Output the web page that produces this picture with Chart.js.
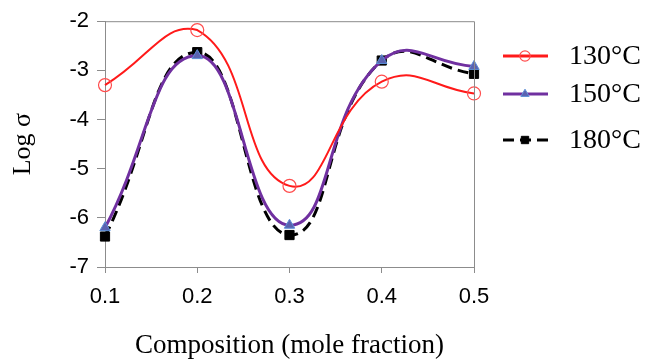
<!DOCTYPE html>
<html>
<head>
<meta charset="utf-8">
<script src="https://cdn.jsdelivr.net/npm/chart.js"></script>
<style>
  body { margin: 0; background: #fff; }
</style>
</head>
<body>
<canvas id="grafik" width="646" height="362"></canvas>
<script>
const komposisi = ["0.1", "0.2", "0.3", "0.4", "0.5"];
const log130 = [-3.3, -2.18, -5.35, -3.23, -3.47];
const log150 = [-6.2, -2.7, -6.15, -2.8, -2.92];
const log180 = [-6.38, -2.63, -6.35, -2.8, -3.07];
const namaSeri = ["130°C", "150°C", "180°C"];

const sansFont = "'Liberation Sans', 'Open Sans', sans-serif";
const serifFont = "'Liberation Serif', 'DejaVu Serif', serif";

// box around plot + custom legend (line with marker)
const kotakPlugin = {
  id: "kotak",
  afterDraw(chart) {
    const ctx = chart.ctx;
    const a = chart.chartArea;
    ctx.save();
    ctx.strokeStyle = "#8c8c8c";
    ctx.lineWidth = 1;
    ctx.beginPath();
    ctx.moveTo(a.left, a.top + 0.5);
    ctx.lineTo(a.right + 0.5, a.top + 0.5);
    ctx.lineTo(a.right + 0.5, a.bottom);
    ctx.stroke();

    const ys = [56, 94, 140];
    chart.data.datasets.forEach((ds, i) => {
      const y = ys[i];
      ctx.strokeStyle = ds.borderColor;
      ctx.lineWidth = 3;
      ctx.setLineDash(ds.borderDash || []);
      ctx.beginPath();
      ctx.moveTo(503, y);
      ctx.lineTo(548, y);
      ctx.stroke();
      ctx.setLineDash([]);
      ctx.fillStyle = ds.pointBackgroundColor;
      ctx.strokeStyle = ds.pointBorderColor;
      ctx.lineWidth = ds.pointBorderWidth;
      Chart.helpers.drawPoint(ctx, {
        pointStyle: ds.pointStyle,
        radius: ds.pointRadius * 0.8,
        borderWidth: ds.pointBorderWidth,
        rotation: 0,
      }, 525, y);
      ctx.fillStyle = "#000";
      ctx.font = "28px " + serifFont;
      ctx.textBaseline = "middle";
      ctx.fillText(namaSeri[i], 569, y + 1);
    });
    ctx.restore();
  },
};

new Chart(document.querySelector("#grafik"), {
  type: "line",
  data: {
    labels: komposisi,
    datasets: [
      {
        label: namaSeri[0],
        data: log130,
        borderColor: "#ff1a1a",
        borderWidth: 2,
        pointStyle: "circle",
        pointRadius: 6.5,
        pointBackgroundColor: "rgba(255,255,255,0)",
        pointBorderColor: "#ff4d4d",
        pointBorderWidth: 1.2,
        tension: 0.48,
      },
      {
        label: namaSeri[1],
        data: log150,
        borderColor: "#7030a0",
        borderWidth: 3,
        pointStyle: "triangle",
        pointRadius: 6,
        pointBackgroundColor: "#5a62b0",
        pointBorderColor: "#5b8fd6",
        pointBorderWidth: 1,
        tension: 0.48,
      },
      {
        label: namaSeri[2],
        data: log180,
        borderColor: "#000000",
        borderWidth: 3,
        borderDash: [11, 6],
        pointStyle: "rect",
        pointRadius: 6.5,
        pointBackgroundColor: "#000000",
        pointBorderColor: "#000000",
        pointBorderWidth: 1,
        tension: 0.48,
      },
    ],
  },
  options: {
    responsive: false,
    animation: false,
    layout: { padding: { top: 19, right: 172, left: 0, bottom: 0 } },
    plugins: { legend: { display: false }, tooltip: { enabled: false } },
    scales: {
      x: {
        offset: false,
        afterFit(scale) { scale.height = 95; },
        grid: { drawOnChartArea: false, drawTicks: true, tickLength: 6, color: "#8c8c8c" },
        border: { color: "#8c8c8c" },
        ticks: { color: "#000", padding: 11, font: { family: sansFont, size: 22 }, maxRotation: 0 },
        title: {
          display: true,
          text: "Composition (mole fraction)",
          color: "#000",
          font: { family: serifFont, size: 27 },
          padding: { top: 0, bottom: 0 },
        },
      },
      y: {
        min: -7,
        max: -2,
        afterFit(scale) { scale.width = 105; },
        grid: { drawOnChartArea: false, drawTicks: true, tickLength: 8, color: "#8c8c8c" },
        border: { color: "#8c8c8c" },
        ticks: { stepSize: 1, color: "#000", padding: 8, font: { family: sansFont, size: 22 } },
        title: {
          display: true,
          text: "Log σ",
          color: "#000",
          font: { family: serifFont, size: 26 },
          padding: { top: 8, bottom: 0 },
        },
      },
    },
  },
  plugins: [kotakPlugin],
});
</script>
</body>
</html>
